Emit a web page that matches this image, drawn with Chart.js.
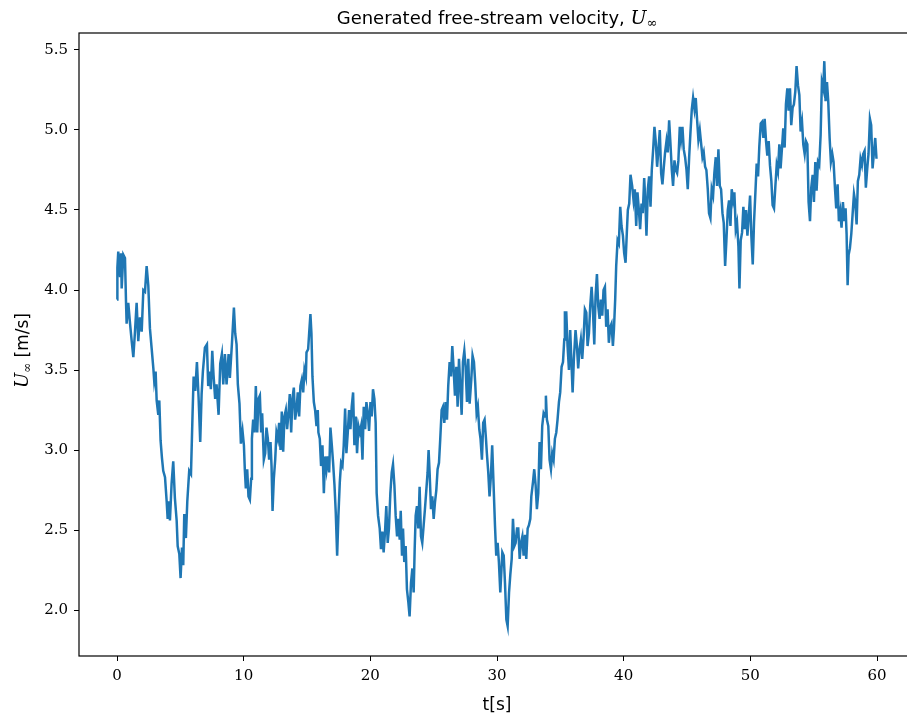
<!DOCTYPE html>
<html>
<head>
<meta charset="utf-8">
<title>Generated free-stream velocity</title>
<script src="https://cdn.jsdelivr.net/npm/chart.js@4.4.1/dist/chart.umd.min.js"></script>
<style>
  html, body { margin: 0; padding: 0; background: #fff; overflow: hidden; }
  #wrap { width: 907px; height: 718px; overflow: hidden; }
</style>
</head>
<body>
<div id="wrap"><canvas id="velocityChart" width="920" height="718"></canvas></div>
<script>
// Time [s] and free-stream velocity [m/s] in 10 s pieces
const tA = [0.00,0.03,0.10,0.24,0.32,0.37,0.50,0.63,0.71,0.76,
            0.89,1.03,1.16,1.29,1.42,1.55,1.68,1.81,1.95,2.08,
            2.21,2.34,2.47,2.60,2.73,2.87,2.94,3.05,3.13,3.26,
            3.34,3.44,3.55,3.65,3.79,3.92,4.00,4.10,4.18,4.31,
            4.44,4.57,4.71,4.79,4.92,5.02,5.13,5.23,5.31,5.44,
            5.55,5.70,5.84,5.97,6.05,6.18,6.31,6.44,6.57,6.68,
            6.78,6.94,7.10,7.20,7.31,7.41,7.52,7.62,7.75,7.86,
            8.02,8.15,8.28,8.39,8.52,8.65,8.81,8.91,9.07,9.23,
            9.33,9.44,9.54,9.67,9.78,9.91];
const uA = [3.94,4.14,4.24,4.08,4.23,4.01,4.22,4.20,3.93,3.79,
            3.92,3.79,3.68,3.58,3.74,3.92,3.68,3.83,3.74,4.00,
            3.99,4.15,4.03,3.76,3.64,3.51,3.43,3.49,3.31,3.22,
            3.31,3.06,2.95,2.87,2.83,2.68,2.57,2.68,2.56,2.79,
            2.93,2.70,2.56,2.40,2.35,2.20,2.39,2.28,2.60,2.45,
            2.68,2.87,2.85,3.24,3.46,3.37,3.55,3.33,3.05,3.35,
            3.49,3.64,3.66,3.40,3.49,3.38,3.62,3.47,3.32,3.41,
            3.22,3.54,3.60,3.41,3.60,3.41,3.60,3.45,3.66,3.89,
            3.73,3.66,3.41,3.29,3.04,3.12];

const tB = [10.02,10.09,10.17,10.28,10.38,10.49,10.59,10.65,10.75,10.86,
            10.96,11.07,11.17,11.28,11.38,11.46,11.59,11.70,11.80,11.91,
            12.01,12.12,12.20,12.28,12.38,12.49,12.59,12.70,12.80,12.91,
            13.01,13.12,13.22,13.33,13.43,13.54,13.64,13.75,13.85,13.96,
            14.06,14.17,14.27,14.38,14.48,14.59,14.70,14.80,14.91,14.96,
            15.09,15.17,15.27,15.35,15.43,15.54,15.64,15.75,15.85,15.90,
            16.01,16.11,16.22,16.33,16.43,16.54,16.64,16.75,16.85,16.96,
            17.06,17.17,17.27,17.38,17.48,17.59,17.69,17.80,17.90,18.01,
            18.11,18.22,18.32,18.43,18.53,18.64,18.74,18.85,18.95,19.06,
            19.17,19.27,19.38,19.48,19.59,19.69,19.80,19.90,20.01,20.11];
const uB = [3.03,2.88,2.76,2.88,2.71,2.69,2.82,3.07,3.19,3.11,
            3.40,3.11,3.32,3.34,3.11,3.23,2.94,2.98,3.14,3.07,
            2.94,3.05,2.90,2.62,2.82,2.94,3.11,3.07,3.17,3.00,
            3.24,2.99,3.21,3.25,3.13,3.23,3.35,3.11,3.32,3.39,
            3.19,3.25,3.36,3.21,3.40,3.44,3.36,3.50,3.46,3.61,
            3.63,3.73,3.85,3.73,3.46,3.30,3.25,3.15,3.25,3.11,
            3.07,2.90,3.03,2.73,2.96,2.88,2.96,2.86,3.14,3.03,
            2.92,2.78,2.61,2.34,2.59,2.80,2.92,2.90,3.03,3.26,
            2.98,3.11,3.25,3.13,3.27,3.36,3.03,3.21,2.98,3.15,
            3.11,3.15,2.94,3.27,3.13,3.30,3.23,3.12,3.30,3.21];

const tC = [20.21,20.32,20.42,20.50,20.61,20.74,20.84,20.95,21.05,21.16,
            21.26,21.37,21.47,21.58,21.69,21.79,21.90,22.00,22.11,22.21,
            22.32,22.40,22.50,22.58,22.68,22.79,22.89,23.00,23.10,23.21,
            23.32,23.42,23.50,23.58,23.68,23.79,23.89,24.00,24.10,24.21,
            24.31,24.42,24.52,24.60,24.68,24.79,24.89,25.00,25.10,25.21,
            25.31,25.42,25.52,25.63,25.73,25.84,25.94,26.05,26.15,26.26,
            26.37,26.47,26.58,26.68,26.79,26.89,27.00,27.10,27.21,27.31,
            27.42,27.52,27.63,27.73,27.84,27.97,28.07,28.18,28.28,28.39,
            28.49,28.60,28.70,28.81,28.91,29.02,29.13,29.20,29.31,29.41,
            29.52,29.62,29.73,29.84,29.94,30.05,30.15,30.26];
const uC = [3.38,3.32,3.17,2.73,2.59,2.51,2.38,2.49,2.36,2.49,
            2.65,2.42,2.51,2.73,2.86,2.91,2.78,2.59,2.46,2.57,
            2.44,2.62,2.34,2.51,2.30,2.40,2.13,2.05,1.96,2.17,
            2.26,2.11,2.38,2.59,2.65,2.51,2.77,2.46,2.42,2.53,
            2.63,2.75,2.86,3.00,2.86,2.63,2.71,2.57,2.67,2.75,
            2.88,2.92,3.07,3.25,3.27,3.17,3.30,3.19,3.40,3.55,
            3.46,3.65,3.50,3.34,3.52,3.27,3.57,3.40,3.22,3.55,
            3.62,3.52,3.30,3.57,3.29,3.44,3.59,3.55,3.42,3.23,
            3.27,3.13,3.07,2.94,3.17,3.19,3.07,2.98,2.86,2.71,
            2.84,3.03,2.78,2.53,2.34,2.42,2.30,2.11];

const tD = [30.42,30.53,30.63,30.74,30.84,30.95,31.05,31.16,31.26,31.37,
            31.47,31.58,31.68,31.79,31.89,32.00,32.10,32.21,32.31,32.42,
            32.52,32.63,32.71,32.84,32.94,33.05,33.15,33.26,33.36,33.47,
            33.57,33.68,33.79,33.86,33.94,34.05,34.15,34.26,34.36,34.47,
            34.57,34.68,34.78,34.89,34.99,35.10,35.21,35.31,35.36,35.47,
            35.57,35.68,35.78,35.89,35.97,36.07,36.20,36.31,36.41,36.52,
            36.62,36.73,36.84,36.94,37.05,37.15,37.26,37.36,37.47,37.57,
            37.68,37.78,37.89,37.99,38.10,38.20,38.31,38.41,38.52,38.62,
            38.73,38.83,38.94,39.04,39.15,39.23,39.33,39.41,39.52,39.62,
            39.73,39.83,39.94,40.04,40.15,40.25,40.33,40.44,40.54];
const uD = [2.36,2.34,2.17,1.94,1.90,2.11,2.22,2.32,2.57,2.40,
            2.42,2.51,2.51,2.32,2.42,2.46,2.34,2.47,2.32,2.51,
            2.53,2.57,2.71,2.80,2.88,2.78,2.63,2.73,3.05,2.88,
            3.15,3.23,3.21,3.34,3.19,3.15,2.94,2.88,2.98,2.94,
            3.07,3.11,3.19,3.30,3.36,3.52,3.55,3.69,3.86,3.86,
            3.65,3.50,3.75,3.52,3.36,3.57,3.75,3.65,3.51,3.63,
            3.69,3.57,3.71,3.88,3.86,3.65,3.73,3.90,4.02,3.88,
            3.66,3.96,4.10,3.90,3.82,3.94,3.84,4.00,4.02,3.77,
            3.88,3.67,3.77,3.79,3.65,3.75,3.94,4.15,4.31,4.29,
            4.52,4.40,4.34,4.23,4.17,4.36,4.50,4.54,4.72];

const tE = [40.67,40.78,40.88,40.99,41.09,41.20,41.30,41.41,41.51,41.62,
            41.72,41.80,41.91,42.01,42.12,42.22,42.33,42.43,42.54,42.64,
            42.75,42.85,42.96,43.06,43.17,43.27,43.38,43.48,43.59,43.69,
            43.80,43.90,44.01,44.11,44.22,44.32,44.43,44.53,44.64,44.74,
            44.85,44.96,45.06,45.17,45.27,45.38,45.48,45.59,45.69,45.80,
            45.90,46.01,46.11,46.22,46.32,46.43,46.53,46.64,46.74,46.85,
            46.95,47.06,47.16,47.27,47.37,47.48,47.59,47.69,47.80,47.90,
            48.01,48.11,48.22,48.32,48.43,48.53,48.64,48.74,48.85,48.95,
            49.06,49.14,49.24,49.35,49.45,49.56,49.66,49.77,49.87,49.98,
            50.08,50.19,50.29,50.40,50.50,50.61,50.71,50.82];
const uE = [4.65,4.56,4.63,4.40,4.61,4.50,4.38,4.54,4.48,4.70,
            4.54,4.34,4.63,4.71,4.52,4.75,4.88,5.02,4.92,4.77,
            4.88,5.00,4.73,4.66,4.77,4.86,4.93,4.86,5.06,4.92,
            4.75,4.65,4.81,4.75,4.73,4.81,5.02,4.94,5.02,4.88,
            4.83,4.75,4.63,4.83,4.98,5.13,5.20,5.13,5.20,5.06,
            4.94,5.00,4.92,4.83,4.86,4.77,4.75,4.63,4.48,4.45,
            4.63,4.59,4.73,4.83,4.65,4.88,4.65,4.63,4.48,4.42,
            4.15,4.31,4.50,4.56,4.40,4.63,4.56,4.61,4.38,4.42,
            4.27,4.01,4.31,4.36,4.52,4.38,4.50,4.34,4.46,4.59,
            4.34,4.16,4.42,4.61,4.79,4.71,4.90,5.04];

const tF = [50.92,51.03,51.13,51.24,51.34,51.45,51.55,51.66,51.76,51.87,
            51.97,52.08,52.18,52.29,52.39,52.50,52.60,52.71,52.81,52.92,
            53.02,53.13,53.23,53.34,53.44,53.55,53.65,53.76,53.87,53.97,
            54.08,54.18,54.29,54.39,54.50,54.60,54.71,54.81,54.92,55.02,
            55.13,55.23,55.34,55.44,55.55,55.65,55.76,55.84,55.94,56.05,
            56.15,56.26,56.36,56.47,56.57,56.68,56.78,56.89,56.99,57.10,
            57.20,57.31,57.41,57.52,57.60,57.68,57.76,57.86,57.97,58.07,
            58.18,58.28,58.39,58.49,58.60,58.70,58.81,58.91,59.02,59.12,
            59.23,59.33,59.44,59.54,59.65,59.75,59.86,59.96];
const uF = [5.05,4.95,5.07,4.93,4.84,4.93,4.78,4.68,4.53,4.51,
            4.64,4.78,4.74,4.91,4.76,4.89,5.01,4.89,5.16,5.26,
            5.12,5.26,5.03,5.14,5.16,5.24,5.40,5.28,5.22,4.99,
            5.05,4.91,4.85,4.93,4.91,4.55,4.43,4.64,4.72,4.55,
            4.80,4.62,4.80,4.78,4.97,5.30,5.26,5.43,5.18,5.30,
            5.18,4.95,4.80,4.85,4.80,4.64,4.51,4.66,4.43,4.49,
            4.39,4.55,4.43,4.51,4.35,4.03,4.22,4.26,4.35,4.47,
            4.60,4.55,4.41,4.68,4.72,4.82,4.78,4.85,4.87,4.64,
            4.76,4.85,5.07,5.03,4.76,4.85,4.95,4.82];

const xTicks = [0, 10, 20, 30, 40, 50, 60];
const yTicks = [2.0, 2.5, 3.0, 3.5, 4.0, 4.5, 5.0, 5.5];

const tSec = [].concat(tA, tB, tC, tD, tE, tF);
const uInf = [].concat(uA, uB, uC, uD, uE, uF);
const points = tSec.map((t, i) => ({ x: t, y: uInf[i] }));

// draw a run of text pieces (mixed fonts) centred on cx
function drawPieces(ctx, pieces, cx, baseY) {
    let total = 0;
    pieces.forEach(p => { ctx.font = p.font; total += ctx.measureText(p.text).width; });
    let x = cx - total / 2;
    ctx.textAlign = 'left';
    ctx.textBaseline = 'alphabetic';
    pieces.forEach(p => {
        ctx.font = p.font;
        ctx.fillText(p.text, x, baseY + (p.dy || 0));
        x += ctx.measureText(p.text).width;
    });
}

// box around the axes plus title and axis labels, matplotlib style
// (the axes run a little past the right edge of the window, like the original)
const frameAndLabels = {
    id: 'frameAndLabels',
    afterDraw(chart) {
        const { ctx, chartArea: a } = chart;
        ctx.save();
        ctx.strokeStyle = '#000';
        ctx.lineWidth = 1.2;
        ctx.strokeRect(a.left, a.top, a.right - a.left, a.bottom - a.top);

        ctx.fillStyle = '#000';
        const mid = (a.left + a.right) / 2;
        drawPieces(ctx, [
            { text: 'Generated free-stream velocity, ', font: '18px "DejaVu Sans"' },
            { text: 'U', font: 'italic 19px "DejaVu Serif"' },
            { text: '\u221E', font: '13px "DejaVu Serif"', dy: 3 }
        ], mid, 24);

        drawPieces(ctx, [{ text: 't[s]', font: '17px "DejaVu Sans"' }], mid, 710);

        ctx.translate(28, (a.top + a.bottom) / 2 + 6);
        ctx.rotate(-Math.PI / 2);
        drawPieces(ctx, [
            { text: 'U', font: 'italic 18px "DejaVu Serif"' },
            { text: '\u221E', font: '12px "DejaVu Serif"', dy: 3 },
            { text: ' [m/s]', font: '17px "DejaVu Sans"' }
        ], 0, 0);
        ctx.restore();
    }
};

const tickFont = { family: 'DejaVu Serif', size: 15 };

const velocityChart = new Chart(document.getElementById('velocityChart'), {
    type: 'line',
    data: {
        datasets: [{
            data: points,
            borderColor: '#1f77b4',
            borderWidth: 2.5,
            pointRadius: 0,
            tension: 0,
            fill: false
        }]
    },
    options: {
        responsive: false,
        animation: false,
        layout: { padding: { top: 33, right: 5, left: 0, bottom: 0 } },
        plugins: {
            legend: { display: false },
            tooltip: { enabled: false },
            title: { display: false }
        },
        scales: {
            x: {
                type: 'linear',
                min: -3,
                max: 63,
                afterBuildTicks: s => { s.ticks = xTicks.map(v => ({ value: v })); },
                afterFit: s => { s.height = 62; },
                grid: { display: true, drawOnChartArea: false, drawTicks: true, tickLength: 5, color: '#000', tickColor: '#000', lineWidth: 1 },
                border: { display: false },
                ticks: { color: '#000', font: tickFont, padding: 6, maxRotation: 0, autoSkip: false, callback: v => String(v) }
            },
            y: {
                type: 'linear',
                min: 1.713,
                max: 5.606,
                afterBuildTicks: s => { s.ticks = yTicks.map(v => ({ value: v })); },
                afterFit: s => { s.width = 79; },
                grid: { display: true, drawOnChartArea: false, drawTicks: true, tickLength: 5, color: '#000', tickColor: '#000', lineWidth: 1 },
                border: { display: false },
                ticks: { color: '#000', font: tickFont, padding: 6, autoSkip: false, callback: v => v.toFixed(1) }
            }
        }
    },
    plugins: [frameAndLabels]
});
</script>
</body>
</html>
